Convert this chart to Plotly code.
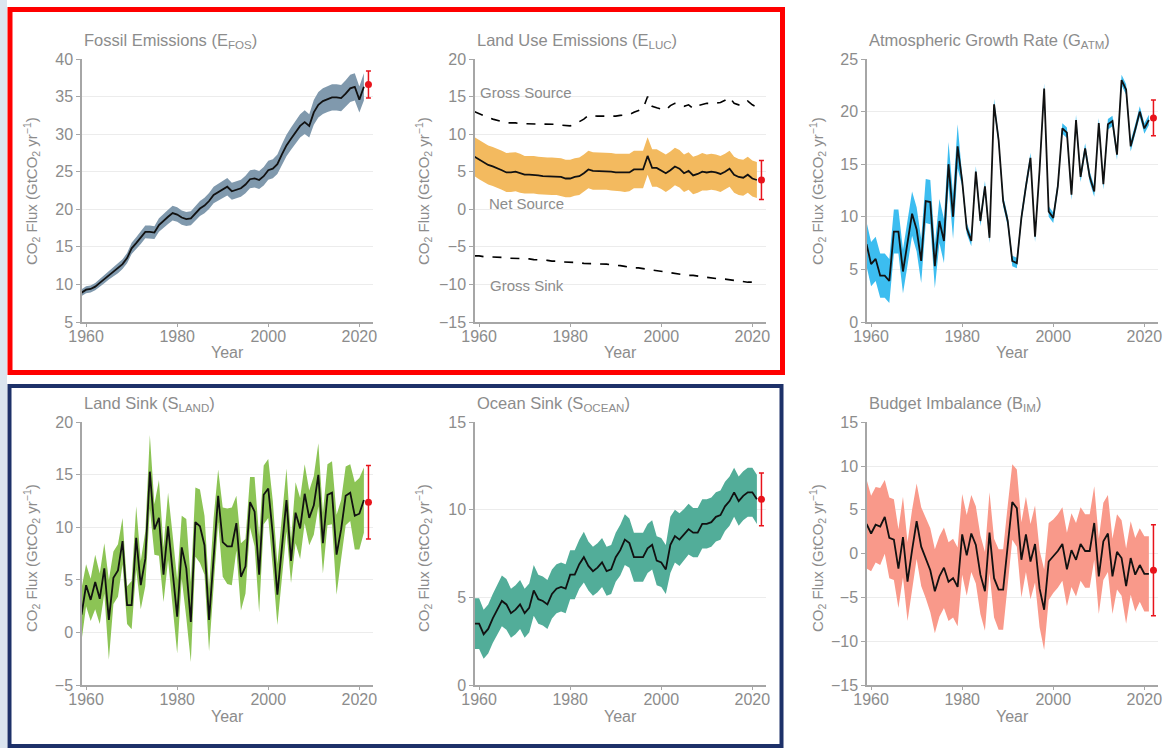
import plotly.graph_objects as go

W, H = 1165, 748

years = list(range(1959, 2022))
proj_year = 2022

# ---------------- data (GtCO2 / yr) ----------------
fossil = [8.9, 9.3, 9.4, 9.7, 10.2, 10.7, 11.2, 11.7, 12.1, 12.7, 13.5,
          14.8, 15.5, 16.2, 17.0, 17.0, 16.9, 17.9, 18.5, 19.0, 19.5,
          19.3, 18.9, 18.7, 18.8, 19.5, 20.1, 20.5, 21.1, 21.9, 22.3,
          22.6, 23.0, 22.4, 22.6, 22.8, 23.3, 24.0, 24.1, 23.9, 24.4,
          25.2, 25.4, 26.0, 27.3, 28.5, 29.4, 30.3, 31.1, 31.6, 31.1,
          32.9, 33.9, 34.4, 34.7, 34.9, 34.9, 34.8, 35.4, 36.1, 36.3,
          34.6, 36.3]
fossil_unc = [0.45, 0.47, 0.47, 0.49, 0.51, 0.54, 0.56, 0.59, 0.61, 0.64, 0.68,
              0.74, 0.78, 0.81, 0.85, 0.85, 0.85, 0.90, 0.93, 0.95, 0.98,
              0.97, 0.95, 0.94, 0.94, 0.98, 1.00, 1.03, 1.06, 1.10, 1.12,
              1.13, 1.15, 1.12, 1.13, 1.14, 1.17, 1.20, 1.20, 1.20, 1.22,
              1.26, 1.27, 1.30, 1.37, 1.43, 1.47, 1.52, 1.56, 1.58, 1.56,
              1.65, 1.70, 1.72, 1.74, 1.75, 1.75, 1.74, 1.77, 1.81, 1.82,
              1.73, 1.82]
fossil_proj = [36.6, 1.8, 1.8]

luc_net = [7.0, 6.6, 6.2, 5.9, 5.7, 5.5, 5.2, 4.9, 4.9, 5.0, 4.8,
           4.6, 4.6, 4.6, 4.5, 4.4, 4.4, 4.4, 4.4, 4.3, 4.1,
           4.1, 4.3, 4.4, 4.8, 5.3, 5.1, 5.1, 5.1, 5.1, 5.0,
           4.9, 4.9, 4.8, 4.9, 5.3, 5.3, 5.3, 7.1, 5.5, 5.5,
           5.2, 4.8, 5.2, 5.7, 5.4, 4.8, 5.1, 4.5, 4.7, 5.0,
           4.9, 5.0, 4.9, 4.7, 5.0, 5.4, 4.6, 4.3, 4.2, 4.6,
           4.1, 3.9]
luc_unc = [2.6, 2.6, 2.6, 2.6, 2.6, 2.6, 2.6, 2.6, 2.6, 2.6, 2.6,
           2.5, 2.5, 2.5, 2.5, 2.5, 2.5, 2.5, 2.5, 2.5, 2.5,
           2.5, 2.5, 2.5, 2.5, 2.5, 2.5, 2.5, 2.5, 2.5, 2.5,
           2.5, 2.5, 2.5, 2.5, 2.5, 2.5, 2.5, 2.5, 2.5, 2.5,
           2.5, 2.5, 2.5, 2.5, 2.5, 2.5, 2.5, 2.5, 2.5, 2.5,
           2.4, 2.4, 2.4, 2.4, 2.4, 2.4, 2.4, 2.4, 2.4, 2.4,
           2.4, 2.4]
luc_gross_source = [13.0, 12.7, 12.4, 12.2, 12.0, 11.8, 11.7, 11.5, 11.5, 11.5, 11.4,
                    11.4, 11.4, 11.4, 11.3, 11.3, 11.3, 11.3, 11.3, 11.2, 11.1,
                    11.1, 11.3, 11.6, 12.0, 12.5, 12.4, 12.4, 12.4, 12.4, 12.3,
                    12.4, 12.5, 12.5, 12.6, 12.9, 13.2, 13.4, 15.0, 13.7, 13.5,
                    13.3, 13.2, 13.8, 14.1, 14.0, 13.7, 13.9, 13.4, 13.8, 14.0,
                    14.1, 14.1, 14.1, 14.2, 14.5, 14.9, 14.1, 13.9, 13.9, 14.4,
                    13.9, 13.6]
luc_gross_sink = [-6.2, -6.2, -6.3, -6.3, -6.3, -6.4, -6.4, -6.5, -6.5, -6.5, -6.6,
                  -6.6, -6.6, -6.7, -6.7, -6.8, -6.8, -6.9, -6.9, -7.0, -7.0,
                  -7.1, -7.1, -7.1, -7.2, -7.2, -7.2, -7.2, -7.3, -7.3, -7.4,
                  -7.4, -7.5, -7.6, -7.7, -7.8, -7.8, -7.9, -8.0, -8.1, -8.2,
                  -8.3, -8.4, -8.5, -8.5, -8.6, -8.7, -8.8, -8.8, -8.9, -9.0,
                  -9.0, -9.1, -9.2, -9.3, -9.3, -9.4, -9.5, -9.5, -9.6, -9.7,
                  -9.7, -9.8]
luc_proj = [3.9, 2.6, 2.6]

atm = [7.4, 5.5, 6.0, 4.4, 4.4, 3.9, 8.6, 8.6, 4.8, 7.5, 10.3,
       8.8, 5.8, 11.5, 11.4, 5.3, 9.6, 7.7, 15.0, 10.0, 16.7,
       13.4, 8.9, 7.7, 14.3, 9.6, 12.9, 8.0, 20.7, 17.3, 11.5,
       9.6, 5.8, 5.6, 9.9, 12.9, 15.6, 8.1, 14.5, 22.2, 10.5,
       9.9, 12.9, 18.4, 18.0, 12.1, 19.2, 13.8, 16.5, 13.8, 12.4,
       18.9, 13.1, 18.8, 19.1, 15.9, 23.0, 22.1, 16.7, 18.3, 20.0,
       18.4, 19.2]
atm_unc = [2.1, 2.1, 2.1, 2.1, 2.1, 2.1, 2.1, 2.1, 2.1, 2.1, 2.1,
           2.1, 2.1, 2.1, 2.1, 2.1, 2.1, 2.1, 2.1, 2.1, 2.1,
           0.5, 0.5, 0.5, 0.5, 0.5, 0.5, 0.5, 0.5, 0.5, 0.5,
           0.5, 0.5, 0.5, 0.5, 0.5, 0.5, 0.5, 0.5, 0.5, 0.5,
           0.5, 0.5, 0.5, 0.5, 0.5, 0.5, 0.5, 0.5, 0.5, 0.5,
           0.5, 0.5, 0.5, 0.5, 0.5, 0.5, 0.5, 0.5, 0.5, 0.5,
           0.5, 0.5]
atm_proj = [19.4, 1.7, 1.7]

land = [1.7, 4.5, 3.1, 4.8, 3.2, 6.1, 1.2, 5.2, 5.9, 8.7, 2.6,
        2.6, 9.0, 4.5, 7.0, 15.3, 9.8, 10.9, 5.5, 10.1, 5.8,
        1.5, 8.1, 6.1, 1.0, 10.5, 10.1, 8.3, 1.2, 7.4, 13.0,
        8.6, 8.2, 8.2, 10.4, 5.3, 6.3, 12.4, 11.5, 5.5, 13.1,
        13.7, 9.3, 3.6, 8.0, 12.6, 6.8, 11.4, 9.9, 13.2, 10.9,
        12.1, 15.0, 8.5, 13.1, 13.3, 7.4, 9.8, 13.0, 13.3, 11.1,
        11.3, 12.6]
land_unc = [2.5, 2.0, 2.0, 2.6, 2.4, 2.4, 3.8, 2.5, 2.5, 2.2, 1.8,
            2.3, 3.0, 2.3, 2.6, 3.5, 2.4, 3.6, 2.6, 3.2, 3.5,
            3.5, 3.0, 4.7, 3.8, 3.3, 3.5, 2.8, 3.0, 3.5, 2.5,
            3.3, 3.6, 3.7, 2.6, 3.2, 2.6, 2.4, 3.3, 3.6, 2.8,
            2.8, 3.2, 2.9, 3.0, 3.0, 2.1, 2.9, 2.9, 2.8, 2.6,
            2.8, 3.0, 2.9, 2.9, 3.0, 3.8, 2.8, 2.8, 2.7, 3.2,
            3.4, 3.1]
land_proj = [12.4, 3.5, 3.5]

ocean = [3.5, 3.5, 2.9, 3.2, 3.8, 4.3, 4.8, 4.6, 4.1, 4.3, 4.6,
         4.1, 4.4, 5.4, 4.9, 4.8, 4.6, 5.2, 5.5, 5.6, 5.5,
         6.3, 6.3, 6.9, 7.3, 6.8, 6.5, 6.7, 7.0, 6.5, 6.6,
         7.3, 7.7, 8.3, 8.1, 7.3, 7.3, 7.3, 7.8, 8.0, 7.1,
         7.0, 6.6, 8.0, 8.5, 8.3, 8.6, 8.9, 8.7, 8.7, 9.2,
         9.2, 9.3, 9.6, 9.7, 10.2, 10.5, 11.0, 10.5, 10.8, 11.0,
         11.0, 10.6]
ocean_unc = [1.45, 1.45, 1.4, 1.4, 1.4, 1.4, 1.45, 1.45, 1.4, 1.4, 1.4,
             1.4, 1.4, 1.45, 1.4, 1.4, 1.4, 1.4, 1.4, 1.4, 1.4,
             1.4, 1.4, 1.4, 1.45, 1.4, 1.4, 1.4, 1.4, 1.4, 1.4,
             1.4, 1.45, 1.45, 1.4, 1.4, 1.4, 1.4, 1.4, 1.4, 1.4,
             1.4, 1.4, 1.6, 1.5, 1.5, 1.45, 1.45, 1.4, 1.4, 1.4,
             1.4, 1.4, 1.4, 1.4, 1.4, 1.4, 1.4, 1.4, 1.4, 1.4,
             1.4, 1.4]
ocean_proj = [10.6, 1.5, 1.5]

bim = [3.4, 2.3, 3.3, 3.1, 4.2, 1.8, 1.6, -1.7, 1.9, -3.2, 0.4,
       3.7, 0.8, -0.5, -1.9, -4.3, -2.6, -1.6, -3.2, -2.8, -3.8,
       2.2, -0.2, 2.3, 1.0, -2.4, -4.3, 2.4, -2.8, -4.1, -4.1,
       0.9, 5.9, 5.2, -0.7, 2.2, -0.9, 1.1, -4.0, -6.4, -0.9,
       -0.3, 0.3, 1.1, -1.8, 0.4, -0.7, 1.1, 0.3, 0.3, 3.5,
       -2.6, 1.4, 2.3, -2.6, 0.2, -0.5, -3.7, -0.5, -2.4, -1.3,
       -2.3, -2.3]
bim_unc = [5.1, 4.3, 4.3, 4.4, 4.2, 4.6, 4.6, 4.5, 4.6, 4.5, 4.6,
           4.3, 4.5, 4.6, 4.8, 4.8, 4.6, 4.6, 4.5, 4.5, 4.5,
           4.6, 4.6, 4.4, 4.4, 4.5, 4.5, 4.6, 4.5, 4.6, 4.6,
           4.6, 4.3, 4.4, 4.3, 4.3, 4.3, 4.4, 4.4, 4.6, 4.4,
           4.2, 4.2, 4.2, 4.2, 4.2, 4.2, 4.2, 4.2, 4.2, 4.2,
           4.3, 4.4, 4.4, 4.3, 4.3, 4.3, 4.3, 4.2, 4.2, 4.2,
           4.3, 4.3]
bim_proj = [-1.9, 5.2, 5.2]

titles = ["Fossil Emissions (E<sub>FOS</sub>)",
          "Land Use Emissions (E<sub>LUC</sub>)",
          "Atmospheric Growth Rate (G<sub>ATM</sub>)",
          "Land Sink (S<sub>LAND</sub>)",
          "Ocean Sink (S<sub>OCEAN</sub>)",
          "Budget Imbalance (B<sub>IM</sub>)"]
y_ranges = [[5, 40], [-15, 20], [0, 25], [-5, 20], [0, 15], [-15, 15]]
y_dticks = [5, 5, 5, 5, 5, 5]
x_ticks = [1960, 1980, 2000, 2020]
ytitle = "CO<sub>2</sub> Flux (GtCO<sub>2</sub> yr<sup>\u22121</sup>)"

series = [
    (fossil, fossil_unc, fossil_proj, "#8099ad"),
    (luc_net, luc_unc, luc_proj, "#f3ba5f"),
    (atm, atm_unc, atm_proj, "#3cbdf0"),
    (land, land_unc, land_proj, "#8cc455"),
    (ocean, ocean_unc, ocean_proj, "#52ad99"),
    (bim, bim_unc, bim_proj, "#f9998a"),
]

# ---------------- layout geometry (pixels) ----------------
col_px = [(82, 373), (475, 766), (867, 1158)]
row_px = [(59, 322), (422.3, 685)]
title_y_px = [41, 404]
ytitle_x_px = [31, 423, 817]
ytitle_y_px = [191, 558]
year_y_px = [352, 716]

def px(x):
    return x / W

def py(y):
    return 1 - y / H

GREY = "#8c8c8c"
AXC = "#a6a6a6"
FONT = "Liberation Sans, Arial, sans-serif"

fig = go.Figure()
layout = dict(width=W, height=H, autosize=False,
              margin=dict(l=0, r=0, t=0, b=0, pad=0, autoexpand=False),
              paper_bgcolor="white", plot_bgcolor="white", showlegend=False,
              font=dict(family=FONT, color=GREY, size=15))
annotations = []
shapes = []

for i, (vals, unc, proj, col) in enumerate(series):
    r, c = divmod(i, 3)
    n = i + 1
    xa = "x" if n == 1 else f"x{n}"
    ya = "y" if n == 1 else f"y{n}"
    upper = [v + u for v, u in zip(vals, unc)]
    lower = [v - u for v, u in zip(vals, unc)]
    fig.add_trace(go.Scatter(x=years + years[::-1], y=upper + lower[::-1],
                             fill="toself", fillcolor=col, line=dict(width=0),
                             mode="lines", hoverinfo="skip", xaxis=xa, yaxis=ya))
    if i == 1:
        for g in (luc_gross_source, luc_gross_sink):
            fig.add_trace(go.Scatter(x=years, y=g, mode="lines",
                                     line=dict(color="black", width=1.6, dash="dash"),
                                     xaxis=xa, yaxis=ya))
    fig.add_trace(go.Scatter(x=years, y=vals, mode="lines",
                             line=dict(color="#111111", width=1.8),
                             xaxis=xa, yaxis=ya))
    fig.add_trace(go.Scatter(x=[proj_year], y=[proj[0]], mode="markers",
                             marker=dict(color="#e8131b", size=7),
                             error_y=dict(type="data", symmetric=False,
                                          array=[proj[1]], arrayminus=[proj[2]],
                                          color="#e8131b", thickness=1.5, width=2.5),
                             xaxis=xa, yaxis=ya))
    x0, x1 = col_px[c]
    ytop, ybot = row_px[r]
    kx = "xaxis" if n == 1 else f"xaxis{n}"
    ky = "yaxis" if n == 1 else f"yaxis{n}"
    layout[kx] = dict(domain=[px(x0), px(x1)], anchor=ya, range=[1959.1, 2023.0],
                      tickvals=x_ticks, showline=True, linecolor=AXC, linewidth=1.5,
                      ticks="outside", ticklen=3, tickcolor=AXC, showgrid=False,
                      zeroline=False, automargin=False, ticklabelstandoff=-4,
                      tickfont=dict(size=16, color=GREY, family=FONT))
    layout[ky] = dict(domain=[py(ybot), py(ytop)], anchor=xa, range=y_ranges[i],
                      dtick=y_dticks[i], showline=True, linecolor=AXC, linewidth=1.5,
                      ticks="outside", ticklen=4, tickcolor=AXC, showgrid=True,
                      gridcolor="#ececec", gridwidth=1, zeroline=False, automargin=False,
                      tickfont=dict(size=16, color=GREY, family=FONT))
    annotations.append(dict(text=titles[i], x=px(x0), y=py(title_y_px[r]),
                            xref="paper", yref="paper", xanchor="left", yanchor="middle",
                            showarrow=False, font=dict(size=16.5, color=GREY)))
    annotations.append(dict(text=ytitle, x=px(ytitle_x_px[c]), y=py(ytitle_y_px[r]),
                            xref="paper", yref="paper", xanchor="center", yanchor="middle",
                            textangle=-90, showarrow=False, font=dict(size=15, color=GREY)))
    annotations.append(dict(text="Year", x=px((x0 + x1) / 2), y=py(year_y_px[r]),
                            xref="paper", yref="paper", xanchor="center", yanchor="middle",
                            showarrow=False, font=dict(size=16, color=GREY)))

# inline labels in the land-use panel
for txt, xv, yv in [("Gross Source", 1959.7, 15.6), ("Net Source", 1961.7, 0.8),
                    ("Gross Sink", 1961.9, -10.2)]:
    annotations.append(dict(text=txt, x=xv, y=yv, xref="x2", yref="y2", xanchor="left",
                            yanchor="middle", showarrow=False,
                            font=dict(size=15, color=GREY)))

# background strip on the left edge and the two frames
shapes.append(dict(type="rect", xref="paper", yref="paper", x0=0, x1=px(7), y0=0, y1=1,
                   fillcolor="#dbe5ef", line=dict(width=0), layer="below"))
shapes.append(dict(type="rect", xref="paper", yref="paper",
                   x0=px(10), x1=px(782.5), y0=py(372.5), y1=py(9.5),
                   line=dict(color="#ff0000", width=5), fillcolor="rgba(0,0,0,0)"))
shapes.append(dict(type="rect", xref="paper", yref="paper",
                   x0=px(9.5), x1=px(781.5), y0=py(746), y1=py(386),
                   line=dict(color="#1d3169", width=4), fillcolor="rgba(0,0,0,0)"))

layout["annotations"] = annotations
layout["shapes"] = shapes
fig.update_layout(**layout)

fig.write_html("out.html", config={"displayModeBar": False},
               post_script="document.body.style.margin='0';")
